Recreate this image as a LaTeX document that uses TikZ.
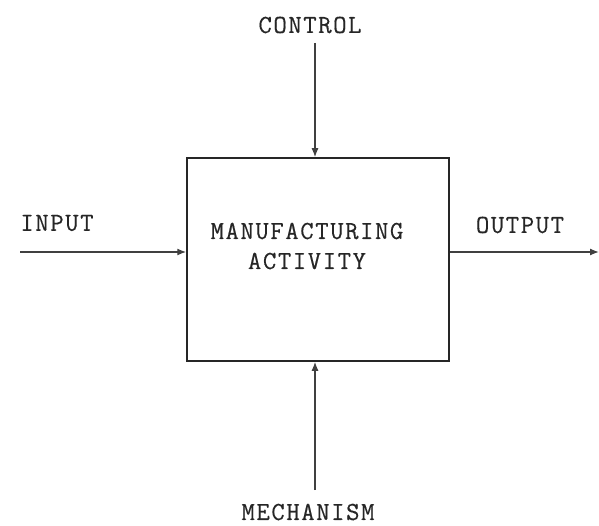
\documentclass[tikz,border=0pt]{standalone}
\usepackage{fontspec}
\setmonofont{Latin Modern Mono}[LetterSpace=6, FakeBold=0.4]
\usetikzlibrary{arrows.meta}

\begin{document}
\begin{tikzpicture}[
  x=1pt, y=-1pt,
  every node/.style={font=\ttfamily\fontsize{26}{30}\selectfont, text=black!85, inner sep=0pt},
  activity/.style={draw=black!85, line width=1.5pt, minimum width=262pt, minimum height=203pt},
  flow/.style={-{Latex[length=9pt,width=7pt]}, line width=1.3pt, draw=black!75}
]
  \useasboundingbox (0,0) rectangle (599,526);
  \node[activity] (act) at (318,259.5) {};
  \node[align=center] (title) at (307,246) {MANUFACTURING\\ACTIVITY};

  \node (control) at (310,25) {CONTROL};
  \node (mechanism) at (308,512) {MECHANISM};
  \node (input) at (57,223) {INPUT};
  \node (output) at (520,225) {OUTPUT};

  \coordinate (ctrl) at (315,43);
  \coordinate (mech) at (315,490);
  \coordinate (in) at (20,252);
  \coordinate (out) at (599,252);

  \draw[flow] (ctrl) -- (ctrl |- act.north);
  \draw[flow] (mech) -- (mech |- act.south);
  \draw[flow] (in) -- (in -| act.west);
  \draw[flow] (act.east |- out) -- (out);
\end{tikzpicture}
\end{document}
